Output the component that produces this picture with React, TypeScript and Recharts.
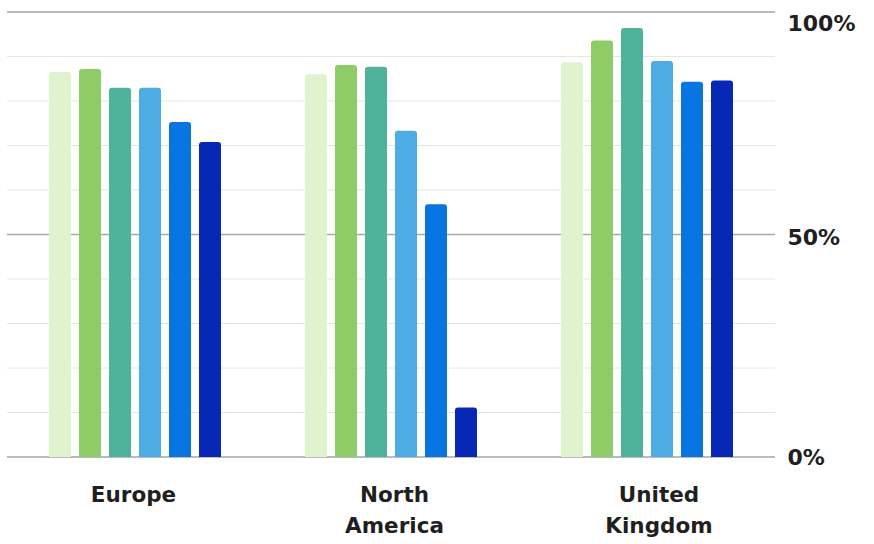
import React from 'react';
import { BarChart, Bar, XAxis, YAxis, CartesianGrid } from 'recharts';

// Regions on the category axis
const regions = ['Europe', 'North America', 'United Kingdom'];

// Six series per region, in percent
const series1 = [86.5, 86.0, 88.7];
const series2 = [87.2, 88.1, 93.6];
const series3 = [83.0, 87.7, 96.4];
const series4 = [83.0, 73.3, 89.0];
const series5 = [75.3, 56.8, 84.3];
const series6 = [70.8, 11.1, 84.6];

const gridTicks = [0, 10, 20, 30, 40, 50, 60, 70, 80, 90, 100];
const labelledTicks = [0, 50, 100];

const seriesKeys = ['s1', 's2', 's3', 's4', 's5', 's6'];
const seriesColors = ['#e0f3cf', '#8fcb66', '#4fb39b', '#4eace5', '#0a74e1', '#0827b5'];

const data = regions.map((region, i) => ({
  region,
  s1: series1[i],
  s2: series2[i],
  s3: series3[i],
  s4: series4[i],
  s5: series5[i],
  s6: series6[i],
}));

const FONT = '"DejaVu Sans", Inter, sans-serif';

// Per-category nudge so labels sit where the layout places them
const labelNudge = [-1.5, 3.5, 12];

const RegionTick = (props: any) => {
  const { x, y, payload, index } = props;
  const words = String(payload.value).split(' ');
  const cx = x + (labelNudge[index] ?? 0);
  return (
    <text
      x={cx}
      y={y + 45}
      textAnchor="middle"
      fill="#1f1f1f"
      fontFamily={FONT}
      fontWeight={700}
      fontSize={21.5}
    >
      {words.map((w, i) => (
        <tspan key={i} x={cx} dy={i === 0 ? 0 : 31}>
          {w}
        </tspan>
      ))}
    </text>
  );
};

const PercentTick = (props: any) => {
  const { x, y, payload } = props;
  const v = payload.value;
  if (!labelledTicks.includes(v)) return null;
  const shift = v === 100 ? 11 : v === 50 ? 3 : 0;
  return (
    <text
      x={x + 12.5}
      y={y + shift}
      dy="0.36em"
      textAnchor="start"
      fill="#1f1f1f"
      fontFamily={FONT}
      fontWeight={700}
      fontSize={22}
    >
      {`${v}%`}
    </text>
  );
};

export default function App() {
  return (
    <div style={{ position: 'absolute', left: 0, top: 0, width: 874, height: 544, background: '#ffffff' }}>
      <BarChart
        width={874}
        height={544}
        data={data}
        margin={{ top: 12, right: 0, bottom: 0, left: 7 }}
        barSize={22}
        barGap={8}
      >
        <CartesianGrid vertical={false} stroke="#e6e6e6" strokeWidth={1} />
        <CartesianGrid vertical={false} horizontalValues={labelledTicks} stroke="#a8a8a8" strokeWidth={1.5} />
        <XAxis
          dataKey="region"
          interval={0}
          axisLine={false}
          tickLine={false}
          tickSize={0}
          tickMargin={0}
          height={87}
          tick={<RegionTick />}
        />
        <YAxis
          orientation="right"
          domain={[0, 100]}
          ticks={gridTicks}
          interval={0}
          axisLine={false}
          tickLine={false}
          tickSize={0}
          tickMargin={0}
          width={99}
          tick={<PercentTick />}
        />
        {seriesKeys.map((k, i) => (
          <Bar key={k} dataKey={k} fill={seriesColors[i]} radius={[3, 3, 0, 0]} isAnimationActive={false} />
        ))}
      </BarChart>
    </div>
  );
}
